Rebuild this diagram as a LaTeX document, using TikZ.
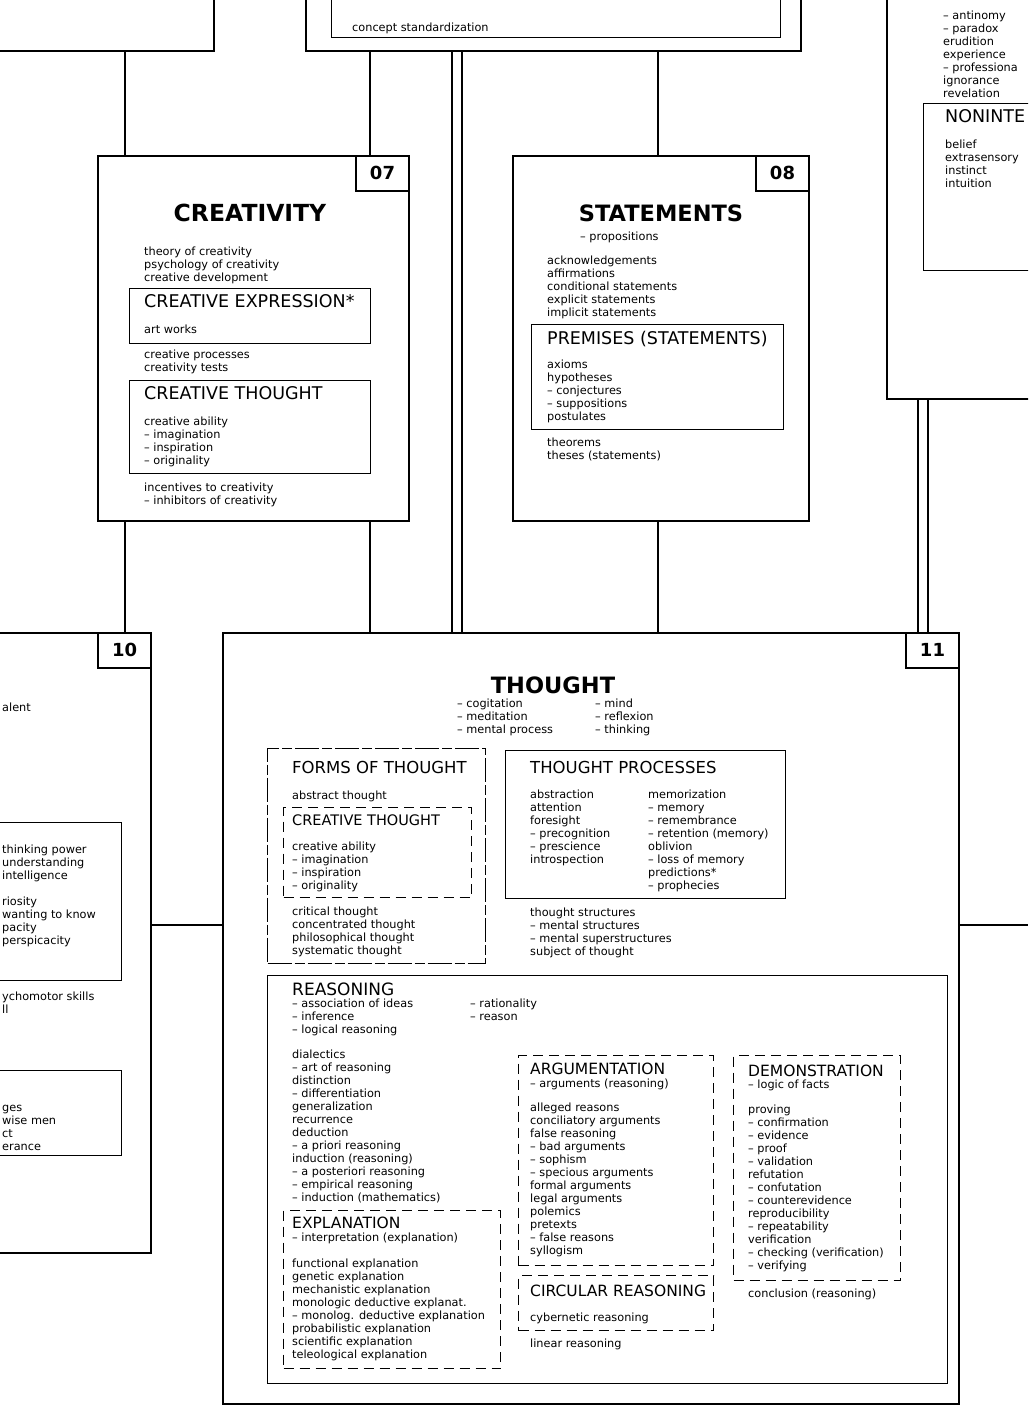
\documentclass[tikz,border=0pt]{standalone}
\usepackage{fontspec}
\setmainfont{DejaVu Sans}
\usetikzlibrary{positioning,calc}

\newcommand{\itemfont}{\fontsize{11.3}{13}\selectfont}
\newcommand{\headfont}{\fontsize{15.5}{18}\selectfont}
\newcommand{\bigheadfont}{\fontsize{17.5}{20}\selectfont}
\newcommand{\titlefont}{\fontsize{22.5}{26}\selectfont\bfseries}
\newcommand{\numfont}{\fontsize{18}{20}\selectfont\bfseries}

\tikzset{
  frame/.style={draw, line width=1.8pt, inner sep=0pt, anchor=north west},
  subbox/.style={draw, line width=1.2pt, inner sep=0pt, anchor=north west},
  dashbox/.style={subbox, dash pattern=on 10pt off 6pt},
  brokenbox/.style={subbox, dash pattern=on 24pt off 3pt on 10pt off 3pt},
  numbox/.style={draw, line width=1.6pt, anchor=north east, inner sep=0pt,
    minimum width=53pt, minimum height=35pt, font=\numfont},
  items/.style={anchor=north west, align=left, inner sep=0pt, font=\itemfont,
    execute at begin node=\strut, yshift=9.1pt},
  head/.style={anchor=base west, inner sep=0pt, font=\headfont},
  bighead/.style={head, font=\bigheadfont},
  title/.style={anchor=base, inner sep=0pt, font=\titlefont},
  link/.style={line width=1.8pt}
}

\begin{document}
\begin{tikzpicture}[x=1pt,y=-1pt]
  \clip (0,0) rectangle (1028,1407);

  % boxes cut by the page edge
  \node[frame, anchor=south east, minimum width=260, minimum height=80] (tl) at (215,52) {};
  \node[frame, anchor=south west, minimum width=495, minimum height=80] (tm) at (305,52) {};
  \node[subbox, anchor=south west, minimum width=449, minimum height=70] (tmi) at (331,38) {};
  \node[items] (tmA) at (352,31) {concept standardization};

  \node[frame, minimum width=250, minimum height=448] (tr) at (886,-50) {};
  \node[items] (trA) at (943,20) {-- antinomy\\-- paradox\\erudition\\experience\\-- professiona\\ignorance\\revelation};
  \node[subbox, minimum width=200, minimum height=167] (nonint) at (923,103) {};
  \node[bighead] (nonintT) at (945,123) {NONINTE};
  \node[items] (nonintA) at (945,149) {belief\\extrasensory\\instinct\\intuition};

  % 07
  \node[frame, minimum width=311, minimum height=365] (creat) at (97,155) {};
  \node[numbox] (n07) at (creat.north east) {07};
  \node[title, font=\fontsize{23.5}{26}\selectfont\bfseries] (creatT) at (250,221) {CREATIVITY};
  \node[items] (creatA) at (144,256) {theory of creativity\\psychology of creativity\\creative development};
  \node[subbox, minimum width=241, minimum height=55] (cexp) at (129,288) {};
  \node[bighead] (cexpT) at (144,307) {CREATIVE EXPRESSION*};
  \node[items] (cexpA) at (144,333) {art works};
  \node[items] (creatB) at (144,359) {creative processes\\creativity tests};
  \node[subbox, minimum width=241, minimum height=93] (cth) at (129,380) {};
  \node[bighead] (cthT) at (144,399) {CREATIVE THOUGHT};
  \node[items] (cthA) at (144,426) {creative ability\\-- imagination\\-- inspiration\\-- originality};
  \node[items] (creatC) at (144,492) {incentives to creativity\\-- inhibitors of creativity};

  % 08
  \node[frame, minimum width=296, minimum height=365] (stat) at (512,155) {};
  \node[numbox] (n08) at (stat.north east) {08};
  \node[title] (statT) at (661,221) {STATEMENTS};
  \node[items] (statS) at (580,240) {-- propositions};
  \node[items] (statA) at (547,265) {acknowledgements\\affirmations\\conditional statements\\explicit statements\\implicit statements};
  \node[subbox, minimum width=252, minimum height=105] (prem) at (531,324) {};
  \node[bighead] (premT) at (547,344) {PREMISES (STATEMENTS)};
  \node[items] (premA) at (547,369) {axioms\\hypotheses\\-- conjectures\\-- suppositions\\postulates};
  \node[items] (statB) at (547,447) {theorems\\theses (statements)};

  % 10
  \node[frame, anchor=north east, minimum width=250, minimum height=620] (b10) at (152,632) {};
  \node[numbox] (n10) at (b10.north east) {10};
  \node[items] (b10A) at (2,711) {alent};
  \node[subbox, anchor=north east, minimum width=200, minimum height=158] (b10i) at (122,822) {};
  \node[items] (b10B) at (2,854) {thinking power\\understanding\\intelligence\\[13pt]riosity\\wanting to know\\pacity\\perspicacity};
  \node[items] (b10C) at (2,1001) {ychomotor skills\\ll};
  \node[subbox, anchor=north east, minimum width=200, minimum height=85] (b10j) at (122,1070) {};
  \node[items] (b10D) at (2,1114) {ges\\wise men\\ct\\erance};

  % 11
  \node[frame, minimum width=736, minimum height=771] (thought) at (222,632) {};
  \node[numbox] (n11) at (thought.north east) {11};
  \node[title] (thoughtT) at (553,693) {THOUGHT};
  \node[items] (thoughtS) at (457,708) {-- cogitation\\-- meditation\\-- mental process};
  \node[items] (thoughtR) at (595,708) {-- mind\\-- reflexion\\-- thinking};

  \node[brokenbox, minimum width=218, minimum height=215] (forms) at (267,748) {};
  \node[head, font=\fontsize{16.5}{18}\selectfont] (formsT) at (292,773) {FORMS OF THOUGHT};
  \node[items] (formsA) at (292,799) {abstract thought};
  \node[dashbox, minimum width=188, minimum height=90] (fcth) at (283,807) {};
  \node[head, font=\fontsize{14.5}{16}\selectfont] (fcthT) at (292,825) {CREATIVE THOUGHT};
  \node[items] (fcthA) at (292,851) {creative ability\\-- imagination\\-- inspiration\\-- originality};
  \node[items] (formsB) at (292,916) {critical thought\\concentrated thought\\philosophical thought\\systematic thought};

  \node[subbox, minimum width=280, minimum height=148] (proc) at (505,750) {};
  \node[head, font=\fontsize{16.5}{18}\selectfont] (procT) at (530,773) {THOUGHT PROCESSES};
  \node[items] (procA) at (530,799) {abstraction\\attention\\foresight\\-- precognition\\-- prescience\\introspection};
  \node[items] (procB) at (648,799) {memorization\\-- memory\\-- remembrance\\-- retention (memory)\\oblivion\\-- loss of memory\\predictions*\\-- prophecies};
  \node[items] (thoughtA) at (530,917) {thought structures\\-- mental structures\\-- mental superstructures\\subject of thought};

  \node[subbox, minimum width=680, minimum height=408] (reas) at (267,975) {};
  \node[head, font=\fontsize{17}{18}\selectfont] (reasT) at (292,995) {REASONING};
  \node[items] (reasS) at (292,1008) {-- association of ideas\\-- inference\\-- logical reasoning};
  \node[items] (reasR) at (470,1008) {-- rationality\\-- reason};
  \node[items] (reasA) at (292,1059) {dialectics\\-- art of reasoning\\distinction\\-- differentiation\\generalization\\recurrence\\deduction\\-- a priori reasoning\\induction (reasoning)\\-- a posteriori reasoning\\-- empirical reasoning\\-- induction (mathematics)};

  \node[dashbox, minimum width=217, minimum height=158] (expl) at (283,1210) {};
  \node[head] (explT) at (292,1228) {EXPLANATION};
  \node[items] (explS) at (292,1241) {-- interpretation (explanation)};
  \node[items] (explA) at (292,1268) {functional explanation\\genetic explanation\\mechanistic explanation\\monologic deductive explanat.\\-- monolog. deductive explanation\\probabilistic explanation\\scientific explanation\\teleological explanation};

  \node[dashbox, minimum width=195, minimum height=210] (argu) at (518,1055) {};
  \node[head] (arguT) at (530,1074) {ARGUMENTATION};
  \node[items] (arguS) at (530,1087) {-- arguments (reasoning)};
  \node[items] (arguA) at (530,1112) {alleged reasons\\conciliatory arguments\\false reasoning\\-- bad arguments\\-- sophism\\-- specious arguments\\formal arguments\\legal arguments\\polemics\\pretexts\\-- false reasons\\syllogism};

  \node[dashbox, minimum width=195, minimum height=55] (circ) at (518,1275) {};
  \node[head] (circT) at (530,1296) {CIRCULAR REASONING};
  \node[items] (circA) at (530,1321) {cybernetic reasoning};
  \node[items] (reasB) at (530,1347) {linear reasoning};

  \node[dashbox, minimum width=167, minimum height=225] (demo) at (733,1055) {};
  \node[head] (demoT) at (748,1076) {DEMONSTRATION};
  \node[items] (demoS) at (748,1088) {-- logic of facts};
  \node[items] (demoA) at (748,1114) {proving\\-- confirmation\\-- evidence\\-- proof\\-- validation\\refutation\\-- confutation\\-- counterevidence\\reproducibility\\-- repeatability\\verification\\-- checking (verification)\\-- verifying};
  \node[items] (reasC) at (748,1297) {conclusion (reasoning)};

  % links
  \coordinate (rightedge) at (1028,925);
  \draw[link] ([xshift=28]creat.north west) -- ([xshift=28]creat.north west |- tl.south);
  \draw[link] ([xshift=28]creat.south west) -- ([xshift=28]creat.south west |- b10.north);
  \draw[link] ([xshift=273]creat.north west) -- ([xshift=273]creat.north west |- tm.south);
  \draw[link] ([xshift=273]creat.south west) -- ([xshift=273]creat.south west |- thought.north);
  \draw[link] ([xshift=146]stat.north west) -- ([xshift=146]stat.north west |- tm.south);
  \draw[link] ([xshift=146]stat.south west) -- ([xshift=146]stat.south west |- thought.north);
  \draw[link] ([xshift=230]thought.north west) -- ([xshift=230]thought.north west |- tm.south);
  \draw[link] ([xshift=240]thought.north west) -- ([xshift=240]thought.north west |- tm.south);
  \draw[link] ([xshift=696]thought.north west) -- ([xshift=696]thought.north west |- tr.south);
  \draw[link] ([xshift=706]thought.north west) -- ([xshift=706]thought.north west |- tr.south);
  \draw[link] (thought.west |- rightedge) -- (b10.east |- rightedge);
  \draw[link] (thought.east |- rightedge) -- (rightedge);
\end{tikzpicture}
\end{document}
